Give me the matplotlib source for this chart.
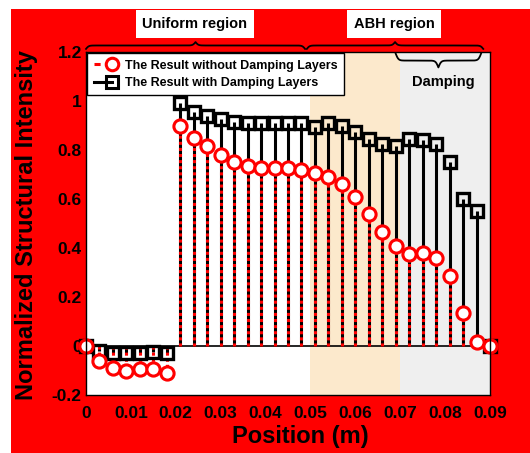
import numpy as np
import matplotlib.pyplot as plt
from matplotlib.lines import Line2D
from matplotlib.patches import Rectangle
from matplotlib.legend_handler import HandlerBase

plt.rcParams['font.family'] = ['Liberation Sans', 'DejaVu Sans']
plt.rcParams['font.weight'] = 'bold'

# positions along the beam (m)
position = [0.000, 0.003, 0.006, 0.009, 0.012, 0.015, 0.018, 0.021, 0.024, 0.027,
            0.030, 0.033, 0.036, 0.039, 0.042, 0.045, 0.048, 0.051, 0.054, 0.057,
            0.060, 0.063, 0.066, 0.069, 0.072, 0.075, 0.078, 0.081, 0.084, 0.087,
            0.090]

without_damping = [0, -0.06, -0.09, -0.10, -0.095, -0.095, -0.11,
                   0.90, 0.85, 0.815, 0.78, 0.75, 0.735, 0.725, 0.725, 0.725, 0.72,
                   0.705, 0.69, 0.66, 0.61, 0.54, 0.467, 0.41, 0.375, 0.378, 0.358,
                   0.285, 0.135, 0.015, 0.0]

with_damping = [0, -0.02, -0.03, -0.03, -0.03, -0.025, -0.03,
                0.99, 0.955, 0.94, 0.925, 0.915, 0.91, 0.91, 0.91, 0.91, 0.91,
                0.895, 0.909, 0.898, 0.875, 0.845, 0.825, 0.815, 0.845, 0.84, 0.825,
                0.75, 0.60, 0.55, 0.0]

x_ticks = [0, 0.01, 0.02, 0.03, 0.04, 0.05, 0.06, 0.07, 0.08, 0.09]
x_labels = ['0', '0.01', '0.02', '0.03', '0.04', '0.05', '0.06', '0.07', '0.08', '0.09']
y_ticks = [-0.2, 0, 0.2, 0.4, 0.6, 0.8, 1.0, 1.2]
y_labels = ['-0.2', '0', '0.2', '0.4', '0.6', '0.8', '1', '1.2']

abh_start, damping_start, x_end = 0.05, 0.07, 0.09


class EndMarkerHandler(HandlerBase):
    # line across the handle, marker at its right end
    def create_artists(self, legend, orig_handle, xdescent, ydescent,
                       width, height, fontsize, trans):
        y = (height - ydescent) / 2
        line = Line2D([-xdescent, -xdescent + width], [y, y])
        line.update_from(orig_handle)
        line.set_marker('None')
        line.set_transform(trans)
        mark = Line2D([-xdescent + width], [y])
        mark.update_from(orig_handle)
        mark.set_linestyle('None')
        mark.set_transform(trans)
        return [line, mark]


def draw_brace(ax, x0, x1, base, height):
    # curly brace, x in data, y in axes fraction
    beta = 300. / 0.09
    xs = np.linspace(x0, x1, 401)
    half = xs[:201]
    yh = 1 / (1 + np.exp(-beta * (half - half[0]))) + 1 / (1 + np.exp(-beta * (half - half[-1])))
    ys = np.concatenate((yh, yh[-2::-1]))
    ax.plot(xs, base + (ys - 0.5) * height, color='black', lw=1.3,
            transform=ax.get_xaxis_transform(), clip_on=False, zorder=6)


fig = plt.figure(figsize=(5.30, 4.53), dpi=100, facecolor='white')
fig.patches.append(Rectangle((11 / 530, 0), 1, 444 / 453, transform=fig.transFigure,
                             facecolor='#ff0000', edgecolor='none', zorder=-10))

ax = fig.add_axes([86 / 530, 58 / 453, 404 / 530, 343 / 453])
ax.set_facecolor('white')

ax.axvspan(abh_start, damping_start, color='#fce9cc', lw=0, zorder=0)
ax.axvspan(damping_start, x_end, color='#efefef', lw=0, zorder=0)

ml, sl, bl = ax.stem(position, with_damping, linefmt='k-', markerfmt='ks', basefmt='k-')
plt.setp(sl, linewidth=2.2, zorder=2)
plt.setp(ml, markersize=9, markerfacecolor='none', markeredgewidth=2.4,
         clip_on=False, zorder=4)
plt.setp(bl, linewidth=1.2, zorder=2)

ml2, sl2, bl2 = ax.stem(position, without_damping, linefmt='r--', markerfmt='ro', basefmt='r-')
plt.setp(sl2, linewidth=2.2, linestyle=(0, (1, 1)), zorder=3)
plt.setp(ml2, markersize=9.5, markerfacecolor='white', markeredgewidth=2.2,
         clip_on=False, zorder=5)
bl2.set_visible(False)

ax.set_xlim(0, 0.09)
ax.set_ylim(-0.2, 1.2)
ax.set_xticks(x_ticks)
ax.set_xticklabels(x_labels)
ax.set_yticks(y_ticks)
ax.set_yticklabels(y_labels)
ax.tick_params(axis='both', length=0, labelsize=12.5)
ax.tick_params(axis='x', pad=8)
ax.tick_params(axis='y', pad=3)
for s in ax.spines.values():
    s.set_linewidth(1.0)
    s.set_zorder(7)

h1 = Line2D([], [], color='red', lw=2.2, linestyle=(0, (2, 1.5)), marker='o',
            markersize=9, markerfacecolor='white', markeredgecolor='red', markeredgewidth=2.2)
h2 = Line2D([], [], color='black', lw=2.2, linestyle='-', marker='s',
            markersize=8, markerfacecolor='none', markeredgecolor='black', markeredgewidth=2.2)
leg = ax.legend([h1, h2], ['The Result without Damping Layers', 'The Result with Damping Layers'],
                handler_map={Line2D: EndMarkerHandler()},
                loc='upper left', bbox_to_anchor=(0, 1), borderaxespad=0.1,
                fontsize=9, fancybox=False, framealpha=1, edgecolor='black',
                handlelength=1.5, handletextpad=1.0, labelspacing=0.45, borderpad=0.5)
leg.get_frame().set_linewidth(1.0)
leg.set_zorder(8)

# region braces
draw_brace(ax, 0.0, 0.0488, 1.009, 0.02)
draw_brace(ax, 0.0492, 0.0885, 1.009, 0.02)
draw_brace(ax, 0.069, 0.088, 0.995, -0.04)
ax.text(0.0795, 1.078, 'Damping', ha='center', va='center', fontsize=10.5, zorder=6)

box = dict(boxstyle='square,pad=0.45', facecolor='white', edgecolor='none')
fig.text(195 / 530, 1 - 24 / 453, 'Uniform region', ha='center', va='center',
         fontsize=10.5, bbox=box)
fig.text(394 / 530, 1 - 24 / 453, 'ABH region', ha='center', va='center',
         fontsize=10.5, bbox=box)

fig.text(27 / 530, 1 - 225 / 453, 'Normalized Structural Intensity', rotation=90,
         ha='center', va='center', fontsize=17)
fig.text(300 / 530, 1 - 436 / 453, 'Position (m)', ha='center', va='center', fontsize=17)

plt.savefig('out.png', dpi=100, facecolor=fig.get_facecolor())
